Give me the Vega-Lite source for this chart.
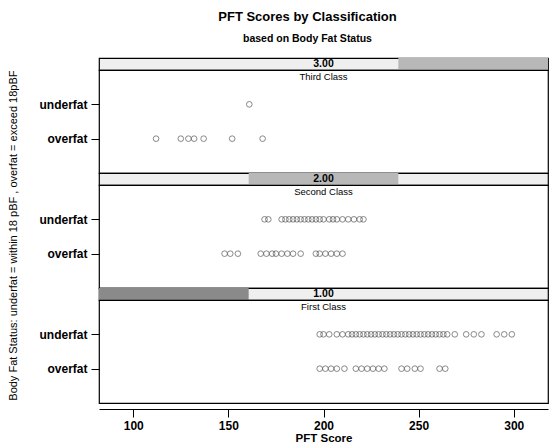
{
  "$schema": "https://vega.github.io/schema/vega-lite/v6.json",
  "padding": {"left": 6, "top": 10, "right": 2, "bottom": 0},
  "title": {"text": "PFT Scores by Classification", "subtitle": "based on Body Fat Status", "fontSize": 13, "fontWeight": "bold", "subtitleFontSize": 10.5, "subtitleFontWeight": "bold", "anchor": "middle", "frame": "bounds", "dx": 30, "subtitlePadding": 10, "offset": 13, "color": "black", "subtitleColor": "black"},
  "config": {
    "font": "Liberation Sans",
    "view": {"stroke": "black", "strokeWidth": 1.2},
    "axis": {"labelColor": "black", "titleColor": "black", "tickColor": "black", "domainColor": "black", "grid": false},
    "axisY": {"labelFontWeight": "bold", "labelFontSize": 12, "tickSize": 8, "labelPadding": 4, "domain": false, "title": null}
  },
  "datasets": {
    "strips": [
      {"panel": "3.00", "start": 2, "end": 3},
      {"panel": "2.00", "start": 1, "end": 2},
      {"panel": "1.00", "start": 0, "end": 1}
    ],
    "pft": [
      {"cls": "Third Class", "status": "underfat", "pft": 161},
      {"cls": "Third Class", "status": "overfat", "pft": 112},
      {"cls": "Third Class", "status": "overfat", "pft": 125},
      {"cls": "Third Class", "status": "overfat", "pft": 129},
      {"cls": "Third Class", "status": "overfat", "pft": 132},
      {"cls": "Third Class", "status": "overfat", "pft": 137},
      {"cls": "Third Class", "status": "overfat", "pft": 152},
      {"cls": "Third Class", "status": "overfat", "pft": 168},
      {"cls": "Second Class", "status": "underfat", "pft": 169},
      {"cls": "Second Class", "status": "underfat", "pft": 171},
      {"cls": "Second Class", "status": "underfat", "pft": 178},
      {"cls": "Second Class", "status": "underfat", "pft": 180},
      {"cls": "Second Class", "status": "underfat", "pft": 182},
      {"cls": "Second Class", "status": "underfat", "pft": 184},
      {"cls": "Second Class", "status": "underfat", "pft": 186},
      {"cls": "Second Class", "status": "underfat", "pft": 188},
      {"cls": "Second Class", "status": "underfat", "pft": 190},
      {"cls": "Second Class", "status": "underfat", "pft": 192},
      {"cls": "Second Class", "status": "underfat", "pft": 194},
      {"cls": "Second Class", "status": "underfat", "pft": 196},
      {"cls": "Second Class", "status": "underfat", "pft": 198},
      {"cls": "Second Class", "status": "underfat", "pft": 200},
      {"cls": "Second Class", "status": "underfat", "pft": 203},
      {"cls": "Second Class", "status": "underfat", "pft": 205},
      {"cls": "Second Class", "status": "underfat", "pft": 207},
      {"cls": "Second Class", "status": "underfat", "pft": 210},
      {"cls": "Second Class", "status": "underfat", "pft": 213},
      {"cls": "Second Class", "status": "underfat", "pft": 216},
      {"cls": "Second Class", "status": "underfat", "pft": 219},
      {"cls": "Second Class", "status": "underfat", "pft": 221},
      {"cls": "Second Class", "status": "overfat", "pft": 148},
      {"cls": "Second Class", "status": "overfat", "pft": 151},
      {"cls": "Second Class", "status": "overfat", "pft": 155},
      {"cls": "Second Class", "status": "overfat", "pft": 167},
      {"cls": "Second Class", "status": "overfat", "pft": 170},
      {"cls": "Second Class", "status": "overfat", "pft": 173},
      {"cls": "Second Class", "status": "overfat", "pft": 175},
      {"cls": "Second Class", "status": "overfat", "pft": 178},
      {"cls": "Second Class", "status": "overfat", "pft": 181},
      {"cls": "Second Class", "status": "overfat", "pft": 184},
      {"cls": "Second Class", "status": "overfat", "pft": 188},
      {"cls": "Second Class", "status": "overfat", "pft": 196},
      {"cls": "Second Class", "status": "overfat", "pft": 198},
      {"cls": "Second Class", "status": "overfat", "pft": 201},
      {"cls": "Second Class", "status": "overfat", "pft": 204},
      {"cls": "Second Class", "status": "overfat", "pft": 207},
      {"cls": "Second Class", "status": "overfat", "pft": 210},
      {"cls": "First Class", "status": "underfat", "pft": 198},
      {"cls": "First Class", "status": "underfat", "pft": 200},
      {"cls": "First Class", "status": "underfat", "pft": 203},
      {"cls": "First Class", "status": "underfat", "pft": 207},
      {"cls": "First Class", "status": "underfat", "pft": 210},
      {"cls": "First Class", "status": "underfat", "pft": 213},
      {"cls": "First Class", "status": "underfat", "pft": 215},
      {"cls": "First Class", "status": "underfat", "pft": 217},
      {"cls": "First Class", "status": "underfat", "pft": 219},
      {"cls": "First Class", "status": "underfat", "pft": 221},
      {"cls": "First Class", "status": "underfat", "pft": 223},
      {"cls": "First Class", "status": "underfat", "pft": 225},
      {"cls": "First Class", "status": "underfat", "pft": 227},
      {"cls": "First Class", "status": "underfat", "pft": 229},
      {"cls": "First Class", "status": "underfat", "pft": 231},
      {"cls": "First Class", "status": "underfat", "pft": 233},
      {"cls": "First Class", "status": "underfat", "pft": 235},
      {"cls": "First Class", "status": "underfat", "pft": 237},
      {"cls": "First Class", "status": "underfat", "pft": 239},
      {"cls": "First Class", "status": "underfat", "pft": 241},
      {"cls": "First Class", "status": "underfat", "pft": 243},
      {"cls": "First Class", "status": "underfat", "pft": 245},
      {"cls": "First Class", "status": "underfat", "pft": 247},
      {"cls": "First Class", "status": "underfat", "pft": 249},
      {"cls": "First Class", "status": "underfat", "pft": 251},
      {"cls": "First Class", "status": "underfat", "pft": 253},
      {"cls": "First Class", "status": "underfat", "pft": 255},
      {"cls": "First Class", "status": "underfat", "pft": 257},
      {"cls": "First Class", "status": "underfat", "pft": 259},
      {"cls": "First Class", "status": "underfat", "pft": 261},
      {"cls": "First Class", "status": "underfat", "pft": 263},
      {"cls": "First Class", "status": "underfat", "pft": 265},
      {"cls": "First Class", "status": "underfat", "pft": 269},
      {"cls": "First Class", "status": "underfat", "pft": 275},
      {"cls": "First Class", "status": "underfat", "pft": 279},
      {"cls": "First Class", "status": "underfat", "pft": 283},
      {"cls": "First Class", "status": "underfat", "pft": 291},
      {"cls": "First Class", "status": "underfat", "pft": 295},
      {"cls": "First Class", "status": "underfat", "pft": 299},
      {"cls": "First Class", "status": "overfat", "pft": 198},
      {"cls": "First Class", "status": "overfat", "pft": 201},
      {"cls": "First Class", "status": "overfat", "pft": 204},
      {"cls": "First Class", "status": "overfat", "pft": 207},
      {"cls": "First Class", "status": "overfat", "pft": 211},
      {"cls": "First Class", "status": "overfat", "pft": 217},
      {"cls": "First Class", "status": "overfat", "pft": 220},
      {"cls": "First Class", "status": "overfat", "pft": 223},
      {"cls": "First Class", "status": "overfat", "pft": 226},
      {"cls": "First Class", "status": "overfat", "pft": 229},
      {"cls": "First Class", "status": "overfat", "pft": 232},
      {"cls": "First Class", "status": "overfat", "pft": 241},
      {"cls": "First Class", "status": "overfat", "pft": 244},
      {"cls": "First Class", "status": "overfat", "pft": 248},
      {"cls": "First Class", "status": "overfat", "pft": 251},
      {"cls": "First Class", "status": "overfat", "pft": 261},
      {"cls": "First Class", "status": "overfat", "pft": 264}
    ]
  },
  "spacing": 0,
  "bounds": "flush",
  "vconcat": [
    {
      "width": 449, "height": 12,
      "view": {"fill": "#efefef", "stroke": "black"},
      "data": {"name": "strips"},
      "transform": [{"filter": "datum.panel == '3.00'"}],
      "layer": [
        {"mark": {"type": "rect", "color": "#b8b8b8"}, "encoding": {"x": {"field": "start", "type": "quantitative", "scale": {"domain": [0, 3], "nice": false, "zero": false}, "axis": null}, "x2": {"field": "end"}}},
        {"mark": {"type": "text", "fontWeight": "bold", "fontSize": 10.5, "color": "black"}, "encoding": {"text": {"field": "panel"}}}
      ]
    },
    {
      "width": 449, "height": 103,
      "title": {"text": "Third Class", "offset": -11, "fontSize": 9.5, "fontWeight": "normal", "anchor": "middle", "color": "black", "frame": "group"},
      "data": {"name": "pft"},
      "transform": [{"filter": "datum.cls == 'Third Class'"}],
      "mark": {"type": "point", "shape": "circle", "filled": false, "size": 32, "stroke": "#444", "strokeWidth": 0.9},
      "encoding": {
        "x": {"field": "pft", "type": "quantitative", "scale": {"domain": [82, 318], "nice": false, "zero": false}, "axis": null},
        "y": {"field": "status", "type": "nominal", "sort": ["underfat", "overfat"], "scale": {"domain": ["underfat", "overfat"], "padding": 1}, "axis": {"title": "Body Fat Status: underfat = within 18 pBF , overfat = exceed 18pBF", "titleFontSize": 11, "titleFontWeight": "normal", "titlePadding": 21, "titleY": 0, "titleAlign": "right"}}
      }
    },
    {
      "width": 449, "height": 12,
      "view": {"fill": "#efefef", "stroke": "black"},
      "data": {"name": "strips"},
      "transform": [{"filter": "datum.panel == '2.00'"}],
      "layer": [
        {"mark": {"type": "rect", "color": "#b8b8b8"}, "encoding": {"x": {"field": "start", "type": "quantitative", "scale": {"domain": [0, 3], "nice": false, "zero": false}, "axis": null}, "x2": {"field": "end"}}},
        {"mark": {"type": "text", "fontWeight": "bold", "fontSize": 10.5, "color": "black"}, "encoding": {"text": {"field": "panel"}}}
      ]
    },
    {
      "width": 449, "height": 103,
      "title": {"text": "Second Class", "offset": -11, "fontSize": 9.5, "fontWeight": "normal", "anchor": "middle", "color": "black", "frame": "group"},
      "data": {"name": "pft"},
      "transform": [{"filter": "datum.cls == 'Second Class'"}],
      "mark": {"type": "point", "shape": "circle", "filled": false, "size": 32, "stroke": "#444", "strokeWidth": 0.9},
      "encoding": {
        "x": {"field": "pft", "type": "quantitative", "scale": {"domain": [82, 318], "nice": false, "zero": false}, "axis": null},
        "y": {"field": "status", "type": "nominal", "sort": ["underfat", "overfat"], "scale": {"domain": ["underfat", "overfat"], "padding": 1}}
      }
    },
    {
      "width": 449, "height": 12,
      "view": {"fill": "#efefef", "stroke": "black"},
      "data": {"name": "strips"},
      "transform": [{"filter": "datum.panel == '1.00'"}],
      "layer": [
        {"mark": {"type": "rect", "color": "#8a8a8a"}, "encoding": {"x": {"field": "start", "type": "quantitative", "scale": {"domain": [0, 3], "nice": false, "zero": false}, "axis": null}, "x2": {"field": "end"}}},
        {"mark": {"type": "text", "fontWeight": "bold", "fontSize": 10.5, "color": "black"}, "encoding": {"text": {"field": "panel"}}}
      ]
    },
    {
      "width": 449, "height": 103,
      "title": {"text": "First Class", "offset": -11, "fontSize": 9.5, "fontWeight": "normal", "anchor": "middle", "color": "black", "frame": "group"},
      "data": {"name": "pft"},
      "transform": [{"filter": "datum.cls == 'First Class'"}],
      "mark": {"type": "point", "shape": "circle", "filled": false, "size": 32, "stroke": "#444", "strokeWidth": 0.9},
      "encoding": {
        "x": {"field": "pft", "type": "quantitative", "scale": {"domain": [82, 318], "nice": false, "zero": false}, "axis": {"values": [100, 150, 200, 250, 300], "title": "PFT Score", "offset": 6, "tickSize": 8, "labelPadding": 3, "labelFontSize": 12, "labelFontWeight": "bold", "titleFontSize": 11.5, "titleFontWeight": "bold", "titlePadding": 1}},
        "y": {"field": "status", "type": "nominal", "sort": ["underfat", "overfat"], "scale": {"domain": ["underfat", "overfat"], "padding": 1}}
      }
    }
  ]
}
